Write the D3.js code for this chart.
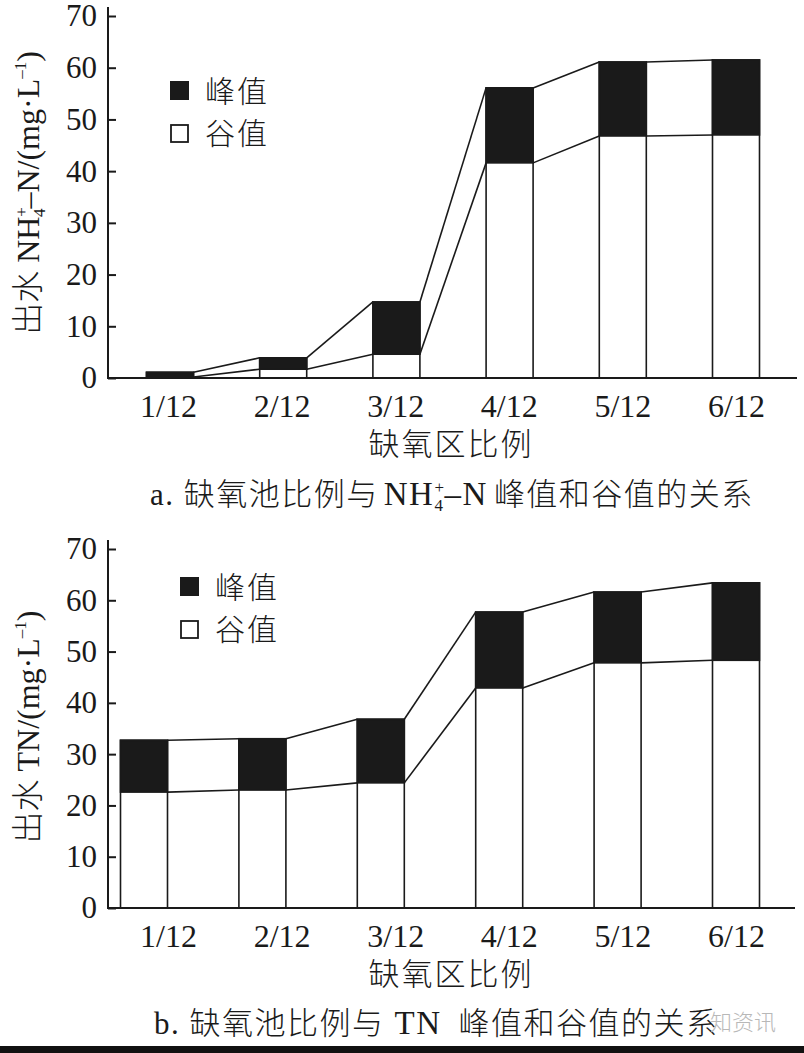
<!DOCTYPE html>
<html>
<head>
<meta charset="utf-8">
<script src="https://cdn.jsdelivr.net/npm/d3@7"></script>
<style>
  body { margin: 0; background: #fff; }
  text { font-family: "Liberation Serif", "Noto Sans CJK SC", serif; fill: #1a1a1a; font-weight: 300; }
</style>
</head>
<body>
<div class="main"></div>
<script>
// categories: anoxic zone ratio
let categories = ["1/12", "2/12", "3/12", "4/12", "5/12", "6/12"];
let yTicks = [0, 10, 20, 30, 40, 50, 60, 70];

// a. NH4+-N peak / valley (mg/L)
let nhPeak = [1.1, 3.9, 14.7, 56.1, 61.1, 61.5];
let nhValley = [0.2, 1.7, 4.6, 41.6, 46.8, 47.0];

// b. TN peak / valley (mg/L)
let tnPeak = [32.7, 33.0, 36.8, 57.7, 61.6, 63.4];
let tnValley = [22.6, 23.0, 24.4, 42.9, 47.8, 48.3];

let width = 804;
let height = 1053;

let svg = d3.select(".main")
    .append("svg")
    .attr("width", width)
    .attr("height", height);

svg.append("rect").attr("width", width).attr("height", height).attr("fill", "#fff");

function drawPanel(opts) {
    let g = svg.append("g");

    let y = d3.scaleLinear().domain([0, 70]).range([opts.y0, opts.y70]);
    let xBar = d3.scalePoint().domain(categories).range(opts.barRange);
    let xLab = d3.scalePoint().domain(categories).range([168, 736]);
    let barW = 47;

    let data = categories.map((c, i) => ({ cat: c, peak: opts.peak[i], valley: opts.valley[i] }));

    // full bars (white) + peak part (black)
    g.selectAll(".bar")
        .data(data)
        .enter().append("rect")
        .attr("class", "bar")
        .attr("x", d => xBar(d.cat) - barW / 2)
        .attr("y", d => y(d.peak))
        .attr("width", barW)
        .attr("height", d => y(0) - y(d.peak))
        .attr("fill", "#fff")
        .attr("stroke", "#1a1a1a")
        .attr("stroke-width", 1.6);

    g.selectAll(".peak")
        .data(data)
        .enter().append("rect")
        .attr("class", "peak")
        .attr("x", d => xBar(d.cat) - barW / 2)
        .attr("y", d => y(d.peak))
        .attr("width", barW)
        .attr("height", d => y(d.valley) - y(d.peak))
        .attr("fill", "#1a1a1a")
        .attr("stroke", "#1a1a1a")
        .attr("stroke-width", 1.6);

    // connecting lines between neighbouring bars
    let links = d3.pairs(data);
    ["peak", "valley"].forEach(key => {
        g.selectAll(".link-" + key)
            .data(links)
            .enter().append("line")
            .attr("x1", d => xBar(d[0].cat) + barW / 2)
            .attr("y1", d => y(d[0][key]))
            .attr("x2", d => xBar(d[1].cat) - barW / 2)
            .attr("y2", d => y(d[1][key]))
            .attr("stroke", "#1a1a1a")
            .attr("stroke-width", 1.6);
    });

    // y axis
    let yAxis = g.append("g")
        .attr("transform", "translate(108,0)")
        .call(d3.axisLeft(y).tickValues(yTicks).tickSize(-8).tickPadding(11).tickSizeOuter(0));
    yAxis.select(".domain").remove();
    yAxis.selectAll(".tick line").attr("stroke", "#1a1a1a").attr("stroke-width", 2);
    yAxis.selectAll(".tick text")
        .attr("font-size", 31)
        .attr("font-family", "Liberation Serif")
        .attr("fill", "#1a1a1a");

    g.append("line")
        .attr("x1", 108).attr("x2", 108)
        .attr("y1", y(0) + 1).attr("y2", y(70) - 9)
        .attr("stroke", "#1a1a1a").attr("stroke-width", 2);

    g.append("line")
        .attr("x1", 107).attr("x2", opts.xEnd)
        .attr("y1", y(0)).attr("y2", y(0))
        .attr("stroke", "#1a1a1a").attr("stroke-width", 2.2);

    // x tick labels
    let xAxis = g.append("g")
        .attr("transform", `translate(0,${y(0)})`)
        .call(d3.axisBottom(xLab).tickSize(0).tickPadding(16));
    xAxis.select(".domain").remove();
    xAxis.selectAll(".tick text")
        .attr("font-size", 32)
        .attr("font-family", "Liberation Serif")
        .attr("fill", "#1a1a1a");

    g.append("text")
        .attr("x", 451)
        .attr("y", y(0) + 77)
        .attr("text-anchor", "middle")
        .attr("font-size", 31)
        .attr("letter-spacing", 2)
        .text("缺氧区比例");

    // legend
    let lg = g.append("g").attr("transform", `translate(${opts.legendX},${opts.legendY})`);
    lg.append("rect").attr("x", 0).attr("y", 0).attr("width", 19).attr("height", 19)
        .attr("fill", "#1a1a1a");
    lg.append("rect").attr("x", 1).attr("y", 44).attr("width", 17).attr("height", 17)
        .attr("fill", "#fff").attr("stroke", "#1a1a1a").attr("stroke-width", 1.8);
    lg.append("text").attr("x", 35).attr("y", 21).attr("font-size", 30).attr("letter-spacing", 2).text("峰值");
    lg.append("text").attr("x", 35).attr("y", 63).attr("font-size", 30).attr("letter-spacing", 2).text("谷值");

    // y label (rotated)
    let yl = g.append("text")
        .attr("transform", `translate(39,${opts.ylabelY}) rotate(-90)`)
        .attr("text-anchor", "middle")
        .attr("font-size", 32);
    opts.ylabel(yl);

    // caption
    let cap = g.append("text")
        .attr("x", opts.capX)
        .attr("y", opts.capY)
        .attr("font-size", 31)
        .attr("letter-spacing", 1.5);
    opts.caption(cap);
}

drawPanel({
    peak: nhPeak,
    valley: nhValley,
    y0: 378,
    y70: 16,
    barRange: [170, 736],
    xEnd: 797,
    legendX: 170,
    legendY: 81,
    ylabelY: 193,
    capX: 150,
    capY: 505,
    ylabel: t => {
        t.append("tspan").text("出水 NH");
        t.append("tspan").attr("font-size", 17).attr("dy", -12).text("+");
        t.append("tspan").attr("font-size", 17).attr("dx", -10).attr("dy", 18).text("4");
        t.append("tspan").attr("dy", -6).text("–N/(mg·L");
        t.append("tspan").attr("font-size", 17).attr("dy", -13).text("–1");
        t.append("tspan").attr("dy", 13).text(")");
    },
    caption: t => {
        t.append("tspan").text("a. 缺氧池比例与");
        t.append("tspan").attr("dx", 5).attr("font-size", 33).text("NH");
        t.append("tspan").attr("font-size", 17).attr("dy", -12).text("+");
        t.append("tspan").attr("font-size", 17).attr("dx", -11).attr("dy", 18).text("4");
        t.append("tspan").attr("dy", -6).attr("font-size", 33).text("–N");
        t.append("tspan").attr("dx", 6).text("峰值和谷值的关系");
    }
});

drawPanel({
    peak: tnPeak,
    valley: tnValley,
    y0: 908,
    y70: 549,
    barRange: [144, 736],
    xEnd: 795,
    legendX: 180,
    legendY: 577,
    ylabelY: 727,
    capX: 154,
    capY: 1034,
    ylabel: t => {
        t.append("tspan").text("出水 TN/(mg·L");
        t.append("tspan").attr("font-size", 17).attr("dy", -13).text("–1");
        t.append("tspan").attr("dy", 13).text(")");
    },
    caption: t => {
        t.append("tspan").text("b. 缺氧池比例与");
        t.append("tspan").attr("dx", 10).attr("font-size", 33).text("TN");
        t.append("tspan").attr("dx", 17).text("峰值和谷值的关系");
    }
});

// faint watermark and bottom rule
svg.append("text")
    .attr("x", 776).attr("y", 1030)
    .attr("text-anchor", "end")
    .attr("font-size", 22)
    .attr("font-family", "Noto Sans CJK SC")
    .style("fill", "#b8b8b8")
    .text("知资讯");

svg.append("rect")
    .attr("x", 0).attr("y", 1046)
    .attr("width", width).attr("height", 7)
    .attr("fill", "#111");
</script>
</body>
</html>
